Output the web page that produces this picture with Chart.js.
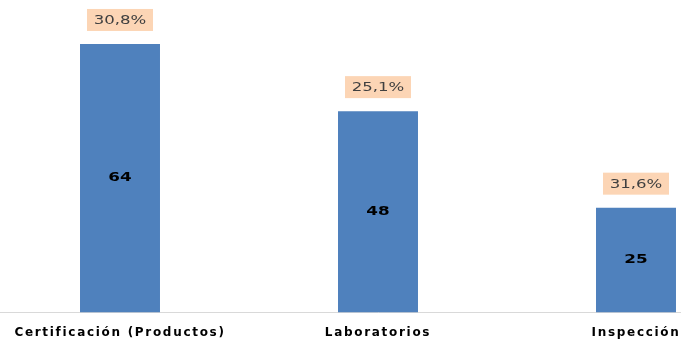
<!DOCTYPE html>
<html>
<head>
<meta charset="utf-8">
<script src="https://cdn.jsdelivr.net/npm/chart.js@4"></script>
<style>
  html, body { margin: 0; padding: 0; background: #fff; overflow: hidden; }
  #wrap { position: absolute; left: -9px; top: 0; width: 774px; height: 339px; }
</style>
</head>
<body>
<div id="wrap"><canvas id="myChart"></canvas></div>
<script>
const categories = ['Certificación (Productos)', 'Laboratorios', 'Inspección'];
const counts = [64, 48, 25];
const percents = [30.8, 25.1, 31.6];

// etiquetas dentro y encima de las barras
const barLabels = {
    id: 'barLabels',
    beforeDraw(chart) {
        chart.ctx.letterSpacing = '1.7px';
    },
    afterDatasetsDraw(chart) {
        const ctx = chart.ctx;
        const meta = chart.getDatasetMeta(0);
        ctx.save();
        ctx.letterSpacing = '0px';
        ctx.textAlign = 'center';
        ctx.textBaseline = 'middle';
        meta.data.forEach((bar, i) => {
            // valor en el centro de la barra
            ctx.save();
            ctx.translate(bar.x, (bar.y + bar.base) / 2);
            ctx.scale(1.4, 1);
            ctx.font = 'bold 12px "DejaVu Sans"';
            ctx.fillStyle = '#000';
            ctx.fillText(counts[i], 0, 0);
            ctx.restore();

            // porcentaje con fondo
            const txt = percents[i].toFixed(1).replace('.', ',') + '%';
            ctx.save();
            ctx.translate(bar.x, bar.y - 24);
            ctx.fillStyle = '#FCD5B5';
            ctx.fillRect(-33, -11, 66, 22);
            ctx.scale(1.38, 1);
            ctx.font = '12px "DejaVu Sans"';
            ctx.fillStyle = '#404040';
            ctx.fillText(txt, 0, 1);
            ctx.restore();
        });
        ctx.restore();
    },
    afterDraw(chart) {
        chart.ctx.letterSpacing = '0px';
    }
};

new Chart(document.getElementById('myChart'), {
    type: 'bar',
    data: {
        labels: categories,
        datasets: [{
            data: counts,
            backgroundColor: '#4F81BD',
            borderWidth: 0,
            categoryPercentage: 1,
            barPercentage: 0.31
        }]
    },
    options: {
        responsive: true,
        maintainAspectRatio: false,
        animation: false,
        layout: { padding: { top: 2, bottom: -14, left: 0, right: 0 } },
        plugins: {
            legend: { display: false },
            tooltip: { enabled: false }
        },
        scales: {
            x: {
                grid: { display: false, drawTicks: false },
                border: { display: true, color: '#D9D9D9', width: 1 },
                ticks: {
                    padding: 13,
                    color: '#000',
                    maxRotation: 0,
                    autoSkip: false,
                    font: { family: '"DejaVu Sans"', size: 12, weight: 'bold' }
                }
            },
            y: {
                display: false,
                min: 0,
                max: 74
            }
        }
    },
    plugins: [barLabels]
});
</script>
</body>
</html>
